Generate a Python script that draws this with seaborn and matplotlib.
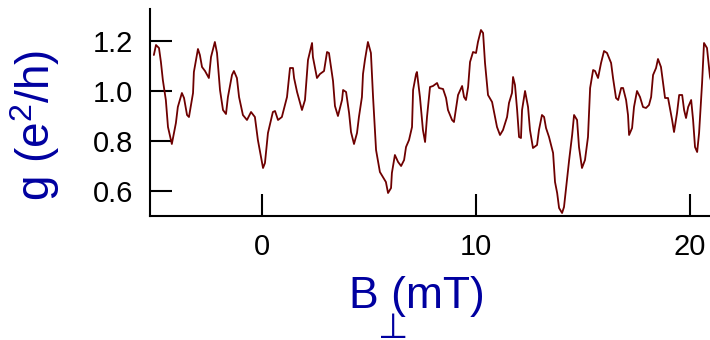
import matplotlib
matplotlib.use("Agg")
import matplotlib.pyplot as plt
import seaborn as sns
import pandas as pd

# Magnetic field B_perp (mT) and conductance g (e^2/h)
B = [-5.05, -4.95, -4.81, -4.72, -4.63, -4.49, -4.39, -4.21, -4.02, -3.93,
     -3.74, -3.64, -3.50, -3.41, -3.22, -3.18, -2.99, -2.90, -2.80, -2.66,
     -2.48, -2.38, -2.20, -2.10, -1.96, -1.82, -1.68, -1.59, -1.40, -1.31,
     -1.17, -1.07, -0.89, -0.70, -0.51, -0.33, -0.19, 0.05, 0.14, 0.28,
     0.51, 0.61, 0.75, 0.93, 1.17, 1.31, 1.45, 1.50, 1.64, 1.87,
     2.01, 2.15, 2.34, 2.38, 2.57, 2.71, 2.90, 3.04, 3.13, 3.32,
     3.41, 3.55, 3.74, 3.79, 3.93, 4.07, 4.16, 4.30, 4.44, 4.53,
     4.67, 4.72, 4.81, 4.95, 5.09, 5.19, 5.33, 5.51, 5.65, 5.79,
     5.89, 6.03, 6.07, 6.21, 6.36, 6.50, 6.64, 6.73, 6.87, 7.01,
     7.06, 7.20, 7.24, 7.38, 7.52, 7.62, 7.71, 7.85, 7.99, 8.18,
     8.27, 8.46, 8.60, 8.69, 8.88, 8.97, 9.16, 9.35, 9.44, 9.53,
     9.63, 9.72, 9.86, 10.00, 10.09, 10.23, 10.33, 10.42, 10.56, 10.75,
     10.89, 10.98, 11.12, 11.26, 11.45, 11.54, 11.68, 11.73, 11.82, 11.92,
     12.01, 12.10, 12.15, 12.29, 12.43, 12.52, 12.66, 12.85, 12.94, 13.08,
     13.18, 13.27, 13.41, 13.60, 13.69, 13.79, 13.88, 14.02, 14.11, 14.25,
     14.35, 14.49, 14.58, 14.72, 14.81, 14.95, 15.09, 15.23, 15.33, 15.47,
     15.56, 15.70, 15.84, 15.98, 16.12, 16.31, 16.40, 16.54, 16.64, 16.78,
     16.87, 17.01, 17.10, 17.15, 17.29, 17.38, 17.52, 17.66, 17.80, 17.94,
     18.08, 18.18, 18.27, 18.41, 18.50, 18.64, 18.74, 18.83, 18.97, 19.16,
     19.25, 19.39, 19.49, 19.63, 19.72, 19.81, 19.91, 20.05, 20.14, 20.23,
     20.33, 20.42, 20.56, 20.65, 20.79, 20.93, 21.10]
g = [1.144, 1.184, 1.172, 1.116, 1.044, 0.964, 0.856, 0.788, 0.872, 0.936,
     0.992, 0.972, 0.904, 0.896, 0.992, 1.076, 1.168, 1.144, 1.096, 1.080,
     1.052, 1.136, 1.196, 1.152, 1.004, 0.924, 0.908, 0.976, 1.064, 1.080,
     1.052, 0.976, 0.904, 0.884, 0.916, 0.896, 0.804, 0.692, 0.712, 0.832,
     0.916, 0.920, 0.884, 0.896, 0.976, 1.092, 1.092, 1.052, 0.996, 0.924,
     0.964, 1.124, 1.192, 1.136, 1.052, 1.068, 1.080, 1.156, 1.152, 1.040,
     0.940, 0.900, 0.964, 1.004, 0.996, 0.912, 0.836, 0.788, 0.832, 0.896,
     0.976, 1.068, 1.124, 1.196, 1.152, 0.976, 0.764, 0.676, 0.656, 0.636,
     0.592, 0.612, 0.672, 0.744, 0.716, 0.700, 0.724, 0.776, 0.804, 0.856,
     1.004, 1.068, 1.076, 0.976, 0.844, 0.796, 0.896, 1.016, 1.020, 1.032,
     1.012, 1.008, 0.972, 0.924, 0.884, 0.876, 0.984, 1.020, 0.976, 0.964,
     1.016, 1.116, 1.156, 1.152, 1.196, 1.244, 1.232, 1.112, 0.984, 0.956,
     0.896, 0.856, 0.824, 0.844, 0.896, 0.952, 0.992, 1.056, 1.024, 0.924,
     0.816, 0.812, 0.924, 1.000, 0.936, 0.844, 0.772, 0.784, 0.844, 0.904,
     0.896, 0.852, 0.816, 0.752, 0.636, 0.592, 0.532, 0.512, 0.536, 0.644,
     0.724, 0.824, 0.904, 0.884, 0.776, 0.692, 0.724, 0.816, 1.012, 1.084,
     1.080, 1.052, 1.112, 1.160, 1.152, 1.112, 1.052, 0.972, 0.964, 1.012,
     1.012, 0.964, 0.904, 0.824, 0.852, 0.936, 1.000, 0.976, 0.936, 0.932,
     0.944, 0.976, 1.064, 1.092, 1.128, 1.096, 1.032, 0.972, 0.972, 0.884,
     0.836, 0.912, 0.984, 0.984, 0.924, 0.892, 0.936, 0.964, 0.884, 0.776,
     0.756, 0.832, 1.032, 1.192, 1.172, 1.056, 1.000]

x_ticks = [0, 10, 20]
y_ticks = [0.6, 0.8, 1.0, 1.2]
y_tick_labels = ["0.6", "0.8", "1.0", "1.2"]

sns.set_style("ticks")
plt.rcParams["font.family"] = ["Liberation Sans", "DejaVu Sans"]
plt.rcParams["mathtext.default"] = "regular"

df = pd.DataFrame({"B": B, "g": g})

fig = plt.figure(figsize=(7.1, 3.4), dpi=100)
ax = fig.add_axes([150 / 710, 1 - 216 / 340, 560 / 710, 207 / 340])

sns.lineplot(data=df, x="B", y="g", ax=ax, color="#6e0000", linewidth=1.3,
             sort=False, estimator=None)

ax.set_xlim(-5.23, 20.93)
ax.set_ylim(0.5, 1.328)
ax.set_xticks(x_ticks)
ax.set_xticklabels([str(t) for t in x_ticks])
ax.set_yticks(y_ticks)
ax.set_yticklabels(y_tick_labels)

for side in ["top", "right"]:
    ax.spines[side].set_visible(False)
for side in ["left", "bottom"]:
    ax.spines[side].set_linewidth(1.5)
    ax.spines[side].set_color("black")

ax.tick_params(axis="both", direction="in", length=16, width=1.5,
               labelsize=21, colors="black")
ax.tick_params(axis="x", pad=12)
ax.tick_params(axis="y", pad=12)

label_color = "#0000a0"
ax.set_ylabel("g (e$^{2}$/h)", fontsize=33, color=label_color)
ax.yaxis.set_label_coords(-0.158, 0.44)
ax.set_xlabel("B (mT)", fontsize=32, color=label_color)
ax.xaxis.set_label_coords(0.477, -0.29)
fig.text(393 / 710, 2.5 / 340, "\u22a5", fontsize=25, color=label_color,
         ha="center", va="baseline", family=["DejaVu Sans"])

fig.savefig("out.png", dpi=100)
